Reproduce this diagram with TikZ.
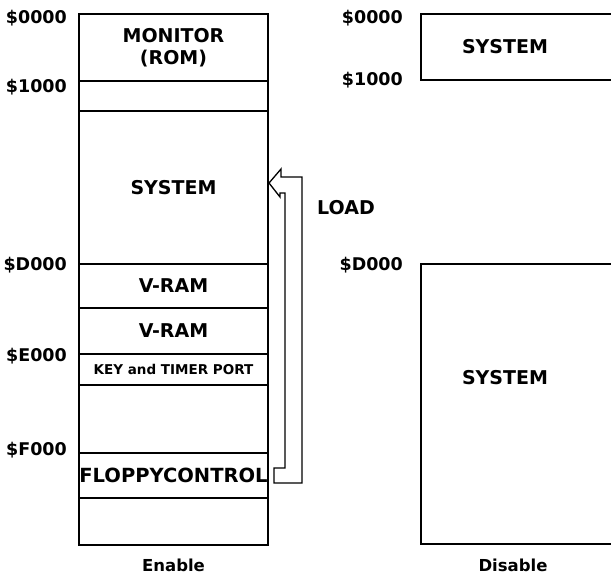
\documentclass[tikz,border=0pt]{standalone}
\usepackage{fontspec}
\setmainfont{DejaVu Sans}
\usetikzlibrary{positioning}
\tikzset{
  memrow/.style ={draw, line width=1.5pt, minimum width=189pt, inner sep=0pt, outer sep=0pt,
                  font=\fontsize{19}{22}\selectfont\bfseries, align=center},
  memtext/.style={font=\fontsize{19}{22}\selectfont\bfseries, inner sep=0pt},
  addr/.style   ={anchor=east, font=\fontsize{17.5}{19}\selectfont\bfseries, inner sep=0pt},
  caption/.style={font=\fontsize{16.5}{18}\selectfont\bfseries, inner sep=0pt},
  openbox/.style={line width=1.5pt},
  loadarr/.style={line width=1.3pt, line join=miter},
}
\begin{document}
\begin{tikzpicture}[x=1pt,y=-1pt]
\useasboundingbox (0,0) rectangle (611,574);
% ---- Enable map
\node[memrow, minimum height=67pt, anchor=north] (mon) at (173.5,14) {MONITOR\\(ROM)};
\node[memrow, minimum height=30pt, below=0pt of mon] (free1) {};
\node[memrow, minimum height=153pt, below=0pt of free1] (sys) {SYSTEM};
\node[memrow, minimum height=44pt, below=0pt of sys] (vram1) {V-RAM};
\node[memrow, minimum height=46pt, below=0pt of vram1] (vram2) {V-RAM};
\node[memrow, minimum height=31pt, below=0pt of vram2, font=\fontsize{13.5}{15}\selectfont\bfseries] (port) {KEY and TIMER PORT};
\node[memrow, minimum height=68pt, below=0pt of port] (free2) {};
\node[memrow, minimum height=45pt, below=0pt of free2, font=\fontsize{19.5}{22}\selectfont\bfseries] (fdc) {FLOPPYCONTROL};
\node[memrow, minimum height=47pt, below=0pt of fdc] (free3) {};
\node[caption] (enable) at (173.5,565) {Enable};

\node[addr] (a0) at (67,18) {\$0000};
\node[addr] (a1) at (67,87) {\$1000};
\node[addr] (aD) at (67,265) {\$D000};
\node[addr] (aE) at (67,356) {\$E000};
\node[addr] (aF) at (67,450) {\$F000};

% ---- load arrow
\draw[loadarr] (269,183) -- (281,169) -- (281,177) -- (302,177) -- (302,483) -- (274,483)
  -- (274,468) -- (285,468) -- (285,193) -- (280,193) -- (280,197) -- cycle;
\node[memtext] (load) at (346,208) {LOAD};

% ---- Disable map
\draw[openbox] (611,14) -- (421,14) -- (421,80) -- (611,80);
\node[memtext] (sysA) at (505,47) {SYSTEM};
\draw[openbox] (611,264) -- (421,264) -- (421,544) -- (611,544);
\node[memtext] (sysB) at (505,378) {SYSTEM};
\node[caption] (disable) at (513,565) {Disable};

\node[addr] (b0) at (403,18) {\$0000};
\node[addr] (b1) at (403,80) {\$1000};
\node[addr] (bD) at (403,265) {\$D000};
\end{tikzpicture}
\end{document}
